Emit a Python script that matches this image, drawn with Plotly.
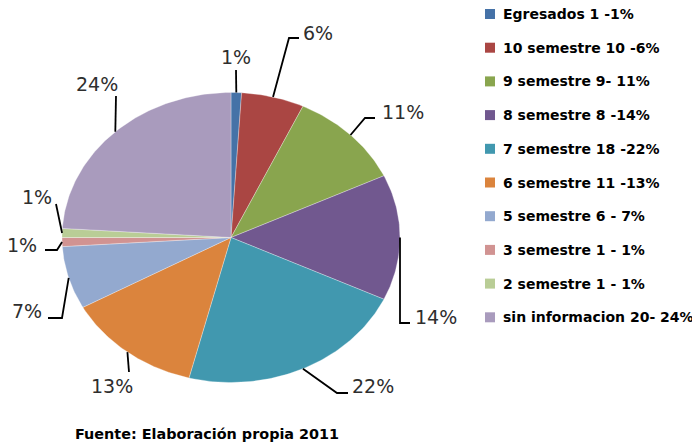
import numpy as np
import plotly.graph_objects as go

# ---- data ----
categories = ["Egresados 1 -1%", "10 semestre 10 -6%", "9 semestre 9- 11%",
              "8 semestre 8 -14%", "7 semestre 18 -22%", "6 semestre 11 -13%",
              "5 semestre 6 - 7%", "3 semestre 1 - 1%", "2 semestre 1 - 1%",
              "sin informacion 20- 24%"]
percentages = [1, 6, 11, 14, 22, 13, 7, 1, 1, 24]
pct_labels = [f"{p}%" for p in percentages]
source_text = "Fuente: Elaboración propia 2011"

# ---- style ----
colors = ["#4572A7", "#AA4643", "#89A54E", "#71588F", "#4198AF",
          "#DB843D", "#93A9CF", "#D19392", "#B9CD96", "#A99BBD"]
CX, CY, RX, RY = 231, 237.5, 169, 145   # pie centre / radii (pixel space)
# label placement: (elbow points of leader, text centre)
label_layout = [
    ([(236, 70)], (236, 57)),
    ([(289, 38), (299, 38)], (318, 33)),
    ([(365, 118), (375, 118)], (403, 112)),
    ([(400, 323), (410, 323)], (436, 317)),
    ([(337, 393), (348, 393)], (373, 386)),
    ([(129, 372)], (112, 386)),
    ([(62, 318), (48, 318)], (27, 311)),
    ([(57, 250), (45, 250)], (22, 245)),
    ([(56, 204)], (37, 197)),
    ([(116, 96)], (97, 84)),
]
LEG_X, LEG_Y0, LEG_DY = 485, 14, 33.7
PAGE_OFFSET = 8  # browser body margin

fig = go.Figure()
total = sum(percentages)
cum = 0
for i, (cat, v) in enumerate(zip(categories, percentages)):
    a0 = 2 * np.pi * cum / total
    a1 = 2 * np.pi * (cum + v) / total
    cum += v
    t = np.linspace(a0, a1, max(4, int(v * 4)))
    xs = np.concatenate([[CX], CX + RX * np.sin(t), [CX]])
    ys = np.concatenate([[CY], CY - RY * np.cos(t), [CY]])
    fig.add_trace(go.Scatter(x=xs, y=ys, fill="toself", fillcolor=colors[i],
                             mode="lines", line=dict(color="rgba(255,255,255,0.6)", width=0.5),
                             showlegend=False, hoverinfo="text", text=cat))
    # leader line
    am = (a0 + a1) / 2
    sx, sy = CX + RX * np.sin(am), CY - RY * np.cos(am)
    elbows, (tx, ty) = label_layout[i]
    lx = [sx] + [p[0] for p in elbows]
    ly = [sy] + [p[1] for p in elbows]
    fig.add_trace(go.Scatter(x=lx, y=ly, mode="lines", line=dict(color="black", width=1.8),
                             showlegend=False, hoverinfo="skip"))
    fig.add_annotation(x=tx, y=ty, text=pct_labels[i], showarrow=False,
                       xanchor="center", yanchor="middle",
                       font=dict(family="DejaVu Sans", size=19, color="#2e2e2e"))
    # legend entry
    ly0 = LEG_Y0 + i * LEG_DY
    fig.add_shape(type="rect", x0=LEG_X, x1=LEG_X + 10, y0=ly0 - 5, y1=ly0 + 5,
                  fillcolor=colors[i], line=dict(width=0))
    fig.add_annotation(x=LEG_X + 16, y=ly0, text=cat, showarrow=False,
                       xanchor="left", yanchor="middle",
                       font=dict(family="DejaVu Sans", size=14, color="black", weight="bold"))

fig.add_annotation(x=73, y=434, text=source_text, showarrow=False,
                   xanchor="left", yanchor="middle",
                   font=dict(family="DejaVu Sans", size=14.4, color="black", weight="bold"))

fig.update_xaxes(range=[PAGE_OFFSET, 700 + PAGE_OFFSET], visible=False, fixedrange=True)
fig.update_yaxes(range=[445 + PAGE_OFFSET, PAGE_OFFSET], visible=False, fixedrange=True)
fig.update_layout(width=700, height=445, autosize=False,
                  margin=dict(l=0, r=0, t=0, b=0),
                  plot_bgcolor="white", paper_bgcolor="white", showlegend=False)
fig.write_html("out.html")
